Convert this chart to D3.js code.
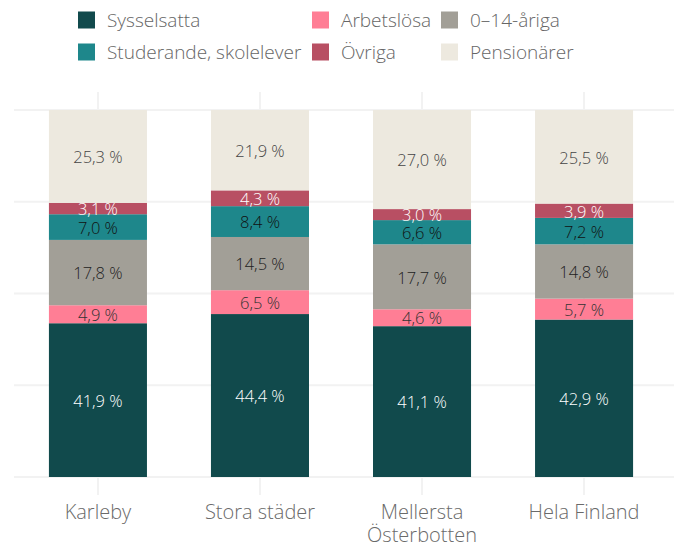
<!DOCTYPE html>
<html><head><meta charset="utf-8">
<script src="https://cdn.jsdelivr.net/npm/d3@7"></script>
<style>
body{margin:0;background:#fff;}
text{font-family:"Open Sans","Segoe UI",sans-serif;font-weight:300;}
</style></head>
<body><svg id="chart" width="674" height="547"></svg>
<script>
const categories = ["Karleby", "Stora städer", "Mellersta Österbotten", "Hela Finland"];
const categoryLines = [["Karleby"], ["Stora städer"], ["Mellersta", "Österbotten"], ["Hela Finland"]];
const seriesNames = ["Sysselsatta", "Arbetslösa", "0–14-åriga", "Studerande, skolelever", "Övriga", "Pensionärer"];
const sysselsatta = [41.9, 44.4, 41.1, 42.9];
const arbetslosa = [4.9, 6.5, 4.6, 5.7];
const barn014 = [17.8, 14.5, 17.7, 14.8];
const studerande = [7.0, 8.4, 6.6, 7.2];
const ovriga = [3.1, 4.3, 3.0, 3.9];
const pensionarer = [25.3, 21.9, 27.0, 25.5];
const yTicks = [0, 25, 50, 75, 100];
const colors = ["#114a4c", "#ff7e95", "#a29f97", "#1e878b", "#b84f63", "#ede9df"];
const labelColors = ["#ffffff", "#333333", "#222222", "#111111", "#ffffff", "#444444"];

const seriesValues = [sysselsatta, arbetslosa, barn014, studerande, ovriga, pensionarer];
const table = categories.map((c, i) => {
  const row = {cat: c};
  seriesNames.forEach((s, j) => row[s] = seriesValues[j][i]);
  return row;
});
const stacked = d3.stack().keys(seriesNames)(table);

const svg = d3.select("#chart");
const x = d3.scaleBand().domain(categories).range([17, 665]).paddingInner(0.395).paddingOuter(0.197);
const y = d3.scaleLinear().domain([0, 100]).range([477, 110]);

// horizontal gridlines
svg.append("g").selectAll("line").data(yTicks).join("line")
  .attr("x1", 14).attr("x2", 674)
  .attr("y1", d => y(d)).attr("y2", d => y(d))
  .attr("stroke", "#f2f2f2").attr("stroke-width", 2);
// vertical gridlines
svg.append("g").selectAll("line").data(categories).join("line")
  .attr("x1", d => x(d) + x.bandwidth() / 2).attr("x2", d => x(d) + x.bandwidth() / 2)
  .attr("y1", 92).attr("y2", 495)
  .attr("stroke", "#f2f2f2").attr("stroke-width", 2);

// bars
const g = svg.append("g");
stacked.forEach((layer, si) => {
  g.append("g").selectAll("rect").data(layer).join("rect")
    .attr("x", d => x(d.data.cat))
    .attr("width", x.bandwidth())
    .attr("y", d => y(d[1]))
    .attr("height", d => y(d[0]) - y(d[1]))
    .attr("fill", colors[si]);
});
// labels
stacked.forEach((layer, si) => {
  g.append("g").selectAll("text").data(layer).join("text")
    .attr("x", d => x(d.data.cat) + x.bandwidth() / 2)
    .attr("y", d => (y(d[0]) + y(d[1])) / 2 + 1)
    .attr("dy", "0.35em")
    .attr("text-anchor", "middle")
    .attr("font-size", 16.5)
    .attr("fill", labelColors[si])
    .text(d => d3.format(".1f")(d[1] - d[0]).replace(".", ",") + " %");
});

// x axis labels
const ax = svg.append("g");
categories.forEach((c, i) => {
  const t = ax.append("text")
    .attr("x", x(c) + x.bandwidth() / 2)
    .attr("y", 512)
    .attr("text-anchor", "middle")
    .attr("font-size", 20)
    .attr("fill", "#6a6a6a");
  categoryLines[i].forEach((ln, k) => {
    t.append("tspan").attr("x", x(c) + x.bandwidth() / 2).attr("dy", k === 0 ? "0.35em" : 23).text(ln);
  });
});

// legend
const legendPos = [[78, 20], [312, 20], [441, 20], [78, 52], [312, 52], [441, 52]];
const lg = svg.append("g");
seriesNames.forEach((s, i) => {
  const [lx, ly] = legendPos[i];
  lg.append("rect").attr("x", lx).attr("y", ly - 8.5).attr("width", 17).attr("height", 17).attr("fill", colors[i]);
  lg.append("text").attr("x", lx + 29).attr("y", ly).attr("dy", "0.35em")
    .attr("font-size", 19).attr("fill", "#666666").text(s);
});
</script></body></html>
